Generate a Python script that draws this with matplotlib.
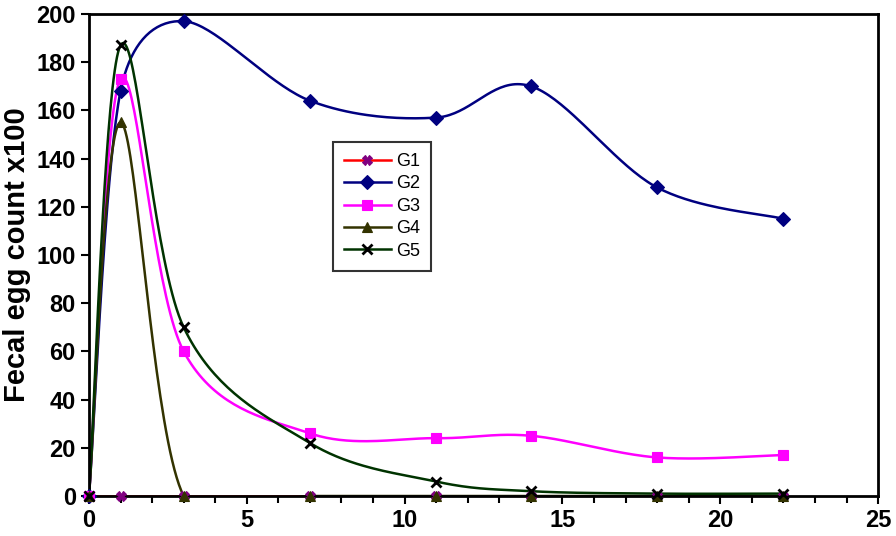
import numpy as np
import matplotlib
matplotlib.use("Agg")
import matplotlib.pyplot as plt
from matplotlib.ticker import MultipleLocator

# data
days = [0, 1, 3, 7, 11, 14, 18, 22]
g1 = [0, 0, 0, 0, 0, 0, 0, 0]
g2 = [0, 168, 197, 164, 157, 170, 128, 115]
g3 = [0, 173, 60, 26, 24, 25, 16, 17]
g4 = [0, 155, 0, 0, 0, 0, 0, 0]
g5 = [0, 187, 70, 22, 6, 2, 1, 1]

names = ["G1", "G2", "G3", "G4", "G5"]
series = [g1, g2, g3, g4, g5]
line_cols = ["#ff0000", "#000080", "#ff00ff", "#333300", "#003300"]
mark_cols = ["#800080", "#000080", "#ff00ff", "#333300", "#000000"]
markers = ["X", "D", "s", "^", "x"]


def smooth(x, y, xs=25.0 / 789, ys=200.0 / 482, n=40):
    # excel-like smoothed line: bezier with 1/6 tangents, capped at half the segment (pixel space)
    p = np.column_stack([np.asarray(x, float) / xs, np.asarray(y, float) / ys])
    out = [p[0]]
    for i in range(len(p) - 1):
        p0 = p[i - 1] if i > 0 else p[i]
        p1, p2 = p[i], p[i + 1]
        p3 = p[i + 2] if i + 2 < len(p) else p[i + 1]
        d12 = np.hypot(*(p2 - p1))
        d02 = np.hypot(*(p2 - p0))
        d13 = np.hypot(*(p3 - p1))
        f0 = 1 / 6
        f1 = 1 / 6
        if d02 / 6 >= d12 / 2 and d02 > 0:
            f0 = d12 / d02 / 2
        if d13 / 6 >= d12 / 2 and d13 > 0:
            f1 = d12 / d13 / 2
        c1 = p1 + (p2 - p0) * f0
        c2 = p2 - (p3 - p1) * f1
        t = np.linspace(0, 1, n)[1:, None]
        b = (1 - t) ** 3 * p1 + 3 * (1 - t) ** 2 * t * c1 + 3 * (1 - t) * t ** 2 * c2 + t ** 3 * p2
        out.extend(b)
    out = np.array(out)
    return out[:, 0] * xs, out[:, 1] * ys


fig = plt.figure(figsize=(8.96, 5.36), dpi=100)
ax = fig.add_axes([0.0993, 0.0746, 0.8807, 0.8994])

for name, ys, lc, mc, m in zip(names, series, line_cols, mark_cols, markers):
    sx, sy = smooth(days, ys)
    ax.plot(sx, sy, color=lc, lw=1.8, zorder=2)
    mew = 2 if m == "x" else 0.8
    ax.plot(days, ys, ls="none", marker=m, color=mc, ms=7, mew=mew, zorder=3, clip_on=False)
    ax.plot([], [], color=lc, lw=1.8, marker=m, mfc=mc, mec=mc, ms=7, mew=mew, label=name)

ax.set_xlim(0, 25)
ax.set_ylim(0, 200)
ax.xaxis.set_major_locator(MultipleLocator(5))
ax.xaxis.set_minor_locator(MultipleLocator(1))
ax.yaxis.set_major_locator(MultipleLocator(20))
ax.tick_params(which="both", direction="out", width=1.5, colors="black")
ax.tick_params(which="major", length=6, labelsize=17)
ax.tick_params(which="minor", length=5)
for lab in ax.get_xticklabels() + ax.get_yticklabels():
    lab.set_fontweight("bold")
    lab.set_family("Liberation Sans")
for s in ax.spines.values():
    s.set_linewidth(2)
ax.set_ylabel("Fecal egg count x100", fontsize=21, fontweight="bold", family="Liberation Sans", labelpad=4)

leg = ax.legend(loc="upper left", bbox_to_anchor=(0.309, 0.734), fancybox=False, frameon=True,
                edgecolor="black", prop={"family": "Liberation Sans", "size": 13},
                handlelength=2.6, labelspacing=0.3, borderpad=0.6, handletextpad=0.3,
                borderaxespad=0)
leg.get_frame().set_linewidth(1.5)

fig.savefig("out.png", dpi=100)
